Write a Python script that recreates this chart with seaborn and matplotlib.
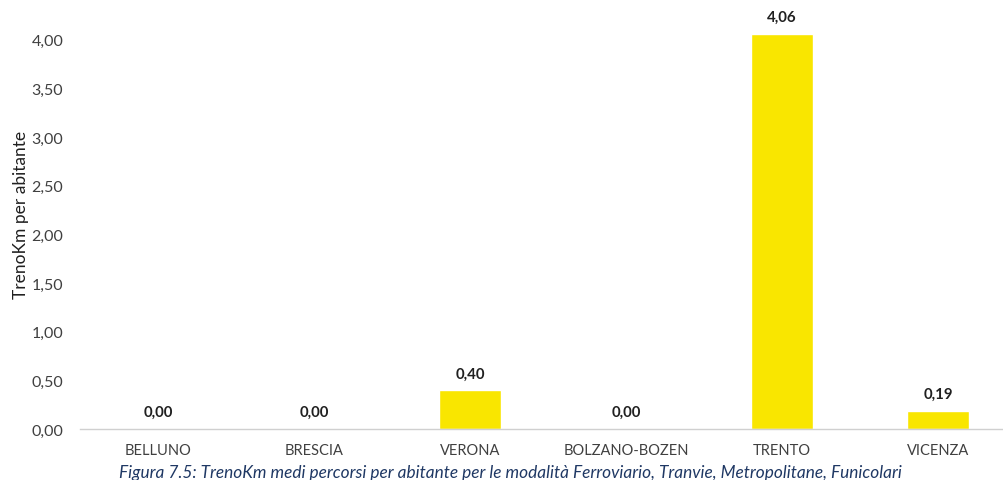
import matplotlib
matplotlib.use("Agg")
import matplotlib.pyplot as plt
import seaborn as sns
import pandas as pd

categories = ["BELLUNO", "BRESCIA", "VERONA", "BOLZANO-BOZEN", "TRENTO", "VICENZA"]
values = [0.00, 0.00, 0.40, 0.00, 4.06, 0.19]
yticks = [0.0, 0.5, 1.0, 1.5, 2.0, 2.5, 3.0, 3.5, 4.0]

sns.set_theme(style="white")
plt.rcParams['font.family'] = ['Lato', 'DejaVu Sans']

df = pd.DataFrame({"city": categories, "val": values})

fig = plt.figure(figsize=(10.04, 4.81), dpi=100)
ax = fig.add_axes([80/1004, 1-430/481, 936/1004, 430/481])
sns.barplot(data=df, x="city", y="val", color="#F9E600", saturation=1, width=0.4, ax=ax)

ax.set_ylim(0, 4.42)
ax.set_xlim(-0.5, 5.5)
ax.set_yticks(yticks)
ax.set_yticklabels([f"{t:.2f}".replace(".", ",") for t in yticks], fontsize=11.5, color="#404040")
ax.tick_params(axis="y", length=0, pad=12)
ax.tick_params(axis="x", length=0, pad=10, labelsize=10.5, labelcolor="#404040")
for s in ["top", "right", "left"]:
    ax.spines[s].set_visible(False)
ax.spines["bottom"].set_color("#D0D0D0")
ax.spines["bottom"].set_linewidth(1)
ax.set_xlabel("")
ax.set_ylabel("TrenoKm per abitante", fontsize=12.5, color="#202020", labelpad=2)

for i, v in enumerate(values):
    ax.text(i, v + 0.1, f"{v:.2f}".replace(".", ","), ha="center", va="bottom",
            fontsize=10.8, fontweight="bold", color="#202020")

fig.text(510/1004, 1-473/481, "Figura 7.5: TrenoKm medi percorsi per abitante per le modalità Ferroviario, Tranvie, Metropolitane, Funicolari",
         ha="center", va="center", fontsize=12.4, style="italic", color="#1F3864")

fig.savefig("out.png", dpi=100)
